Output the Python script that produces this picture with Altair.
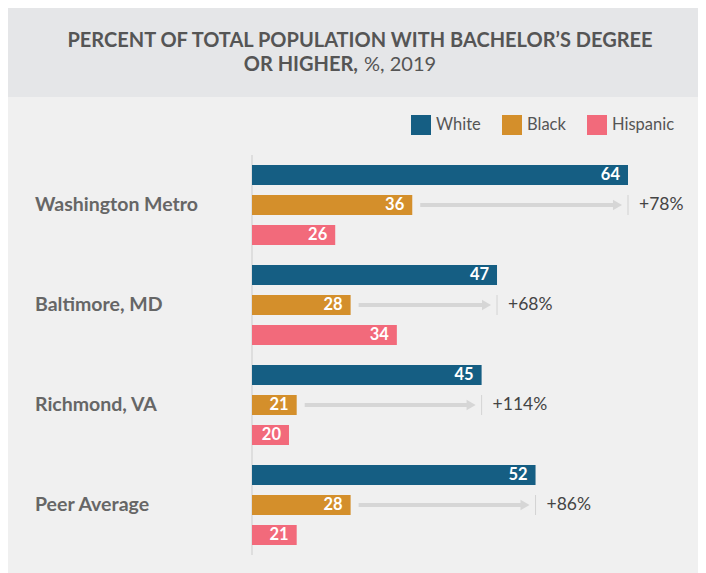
import altair as alt
import pandas as pd

cities = ["Washington Metro", "Baltimore, MD", "Richmond, VA", "Peer Average"]
series = ["White", "Black", "Hispanic"]
white = [64, 47, 45, 52]
black = [36, 28, 21, 28]
hispanic = [26, 34, 20, 21]
gap_labels = ["+78%", "+68%", "+114%", "+86%"]
colors = ["#155e83", "#d48f2b", "#f26a7b"]

x_min = 15.2
x_max = 64

rows = []
for i, c in enumerate(cities):
    for s, v in zip(series, [white[i], black[i], hispanic[i]]):
        rows.append({"city": c, "series": s, "value": v})
df = pd.DataFrame(rows)

arrows = pd.DataFrame({
    "city": cities, "white": white, "black": black, "label": gap_labels,
})

FONT = "Lato"
xscale = alt.Scale(domain=[x_min, x_max], range=[244, 620], zero=False, nice=False)
yscale = alt.Scale(domain=cities, range=[147, 547], paddingInner=0, paddingOuter=0)
yoff = alt.Scale(domain=series, paddingInner=1 / 3, paddingOuter=1 / 3)

Y = alt.Y("city:N", scale=yscale, axis=None, sort=cities)
YO = alt.YOffset("series:N", scale=yoff, sort=series)

one = pd.DataFrame({"a": [0]})

band = alt.Chart(one).mark_rect(color="#e5e6e8").encode(
    x=alt.value(0), x2=alt.value(690), y=alt.value(0), y2=alt.value(89)
)

title1 = alt.Chart(one).mark_text(
    font=FONT, fontSize=20, fontWeight="bold", color="#555555", align="center", baseline="middle",
    text="PERCENT OF TOTAL POPULATION WITH BACHELOR\u2019S DEGREE"
).encode(x=alt.value(352), y=alt.value(33))
title2a = alt.Chart(one).mark_text(
    font=FONT, fontSize=20, fontWeight="bold", color="#555555", align="right", baseline="middle",
    text="OR HIGHER,"
).encode(x=alt.value(350), y=alt.value(57))
title2b = alt.Chart(one).mark_text(
    font=FONT, fontSize=20, fontWeight="normal", color="#555555", align="left", baseline="middle",
    text="%, 2019"
).encode(x=alt.value(356), y=alt.value(57))

baseline = alt.Chart(one).mark_rule(color="#d9d9d9", strokeWidth=1.5).encode(
    x=alt.value(244), y=alt.value(147), y2=alt.value(547)
)

bars = alt.Chart(df).mark_bar().encode(
    x=alt.X("value:Q", scale=xscale, axis=None),
    x2=alt.datum(x_min),
    y=Y,
    yOffset=YO,
    color=alt.Color(
        "series:N",
        scale=alt.Scale(domain=series, range=colors),
        legend=alt.Legend(
            orient="none", legendX=403, legendY=107, direction="horizontal", title=None,
            symbolType="square", symbolSize=400, symbolStrokeWidth=0, symbolOpacity=1,
            labelFontSize=16.5, labelColor="#555555", labelFont=FONT,
            columnPadding=21, labelOffset=5,
        ),
    ),
)

bar_text = alt.Chart(df).mark_text(
    align="right", baseline="middle", dx=-8, color="white", fontWeight="bold", fontSize=16.5, font=FONT
).encode(x=alt.X("value:Q", scale=xscale), y=Y, yOffset=YO, text="value:Q")

arrow_line = alt.Chart(arrows).mark_rule(
    color="#d6d6d6", strokeWidth=4, xOffset=8, x2Offset=-14
).encode(x=alt.X("black:Q", scale=xscale), x2="white:Q", y=Y)

arrow_head = alt.Chart(arrows).mark_point(
    shape="triangle-right", filled=True, color="#d6d6d6", opacity=1, size=110, xOffset=-10.5
).encode(x=alt.X("white:Q", scale=xscale), y=Y)

tick = alt.Chart(arrows).mark_tick(
    color="#c8c8c8", thickness=1, size=20, orient="vertical"
).encode(x=alt.X("white:Q", scale=xscale), y=Y)

pct = alt.Chart(arrows).mark_text(
    align="left", baseline="middle", dx=11, color="#444444", fontSize=17.5, font=FONT
).encode(x=alt.X("white:Q", scale=xscale), y=Y, text="label:N")

cat = alt.Chart(pd.DataFrame({"city": cities})).mark_text(
    align="left", baseline="middle", fontSize=19.5, fontWeight="bold", color="#666666", font=FONT
).encode(x=alt.value(27), y=Y, text="city:N")

chart = alt.layer(
    band, title1, title2a, title2b, baseline, bars, bar_text,
    arrow_line, arrow_head, tick, pct, cat
).properties(
    width=690, height=565, padding=0, background="#f0f0f0",
    autosize=alt.AutoSizeParams(type="none"),
).configure_view(stroke=None)

chart.save("out.html", embed_options={"renderer": "svg", "actions": False})
